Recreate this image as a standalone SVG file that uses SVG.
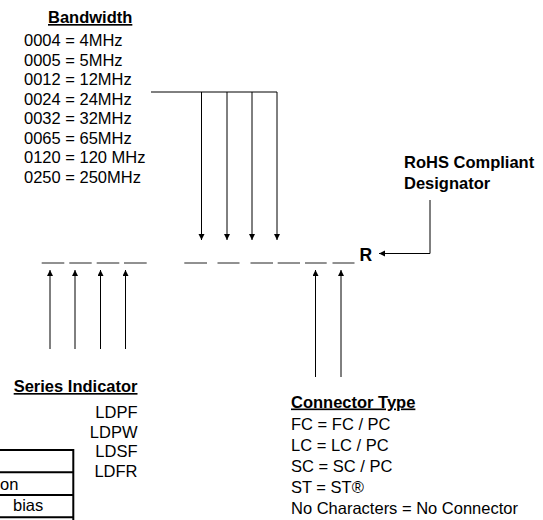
<svg xmlns="http://www.w3.org/2000/svg" width="543" height="520" viewBox="0 0 543 520">
<style>
text{font-family:"Liberation Sans",Arial,sans-serif;font-size:16.5px;fill:#000}
.b{font-weight:bold}
.u{text-decoration:underline}
.ln{stroke:#000;stroke-width:1;fill:none}
.dash{stroke:#222;stroke-width:1}
.tbl{stroke:#000;stroke-width:2;fill:none}
</style>
<defs>
<marker id="ah" markerUnits="userSpaceOnUse" markerWidth="7" markerHeight="7" refX="6" refY="3" orient="auto">
<path d="M0,0 L6,3 L0,6 z" fill="#000"/>
</marker>
</defs>
<rect width="543" height="520" fill="#fff"/>
<g id="bandwidth">
<text x="48" y="23" class="b u">Bandwidth</text>
<text x="24" y="46">0004 = 4MHz</text>
<text x="24" y="65.5">0005 = 5MHz</text>
<text x="24" y="85">0012 = 12MHz</text>
<text x="24" y="104.5">0024 = 24MHz</text>
<text x="24" y="124">0032 = 32MHz</text>
<text x="24" y="143.5">0065 = 65MHz</text>
<text x="24" y="163">0120 = 120 MHz</text>
<text x="24" y="182.5">0250 = 250MHz</text>
</g>
<g id="rohs">
<text x="404" y="168" class="b">RoHS Compliant</text>
<text x="404" y="188.5" class="b">Designator</text>
</g>
<g id="partnumber">
<line class="dash" x1="41.7" y1="263" x2="64.3" y2="263"/>
<line class="dash" x1="69.3" y1="263" x2="91.7" y2="263"/>
<line class="dash" x1="96.7" y1="263" x2="119.3" y2="263"/>
<line class="dash" x1="124" y1="263" x2="146.7" y2="263"/>
<line class="dash" x1="184.3" y1="263" x2="207" y2="263"/>
<line class="dash" x1="217.5" y1="263" x2="239.5" y2="263"/>
<line class="dash" x1="250.5" y1="263" x2="273" y2="263"/>
<line class="dash" x1="277.7" y1="263" x2="300" y2="263"/>
<line class="dash" x1="305" y1="263" x2="326.7" y2="263"/>
<line class="dash" x1="332.5" y1="263" x2="354.5" y2="263"/>
<text x="359.5" y="260.5" class="b" style="font-size:17.5px">R</text>
</g>
<g id="series">
<text x="137.5" y="392" class="b u" text-anchor="end">Series Indicator</text>
<text x="137.5" y="418" text-anchor="end">LDPF</text>
<text x="137.5" y="437.5" text-anchor="end">LDPW</text>
<text x="137.5" y="457" text-anchor="end">LDSF</text>
<text x="137.5" y="476.5" text-anchor="end">LDFR</text>
</g>
<g id="connector">
<text x="291" y="407.5" class="b u">Connector Type</text>
<text x="291" y="429.5">FC = FC / PC</text>
<text x="291" y="450.5">LC = LC / PC</text>
<text x="291" y="471.5">SC = SC / PC</text>
<text x="291" y="492.5">ST = ST®</text>
<text x="291" y="513.5">No Characters = No Connector</text>
</g>
<g id="table">
<path class="tbl" d="M-2,450 H73.3 V522 M-2,472.3 H73.3 M-2,495 H73.3 M-2,517.3 H73.3"/>
<text x="0" y="490">on</text>
<text x="13" y="511">bias</text>
</g>
<g id="connectors">
<path class="ln" d="M151,92 H277"/>
<path class="ln" d="M201.5,92 V240" marker-end="url(#ah)"/>
<path class="ln" d="M227,92 V240" marker-end="url(#ah)"/>
<path class="ln" d="M252,92 V240" marker-end="url(#ah)"/>
<path class="ln" d="M277,92 V240" marker-end="url(#ah)"/>
<path class="ln" d="M50,349 V270" marker-end="url(#ah)"/>
<path class="ln" d="M75,349 V270" marker-end="url(#ah)"/>
<path class="ln" d="M100.5,349 V270" marker-end="url(#ah)"/>
<path class="ln" d="M125.5,349 V270" marker-end="url(#ah)"/>
<path class="ln" d="M315.5,377 V270" marker-end="url(#ah)"/>
<path class="ln" d="M341,377 V270" marker-end="url(#ah)"/>
<path class="ln" d="M430,200 V253.5 H379" marker-end="url(#ah)"/>
</g>
</svg>
